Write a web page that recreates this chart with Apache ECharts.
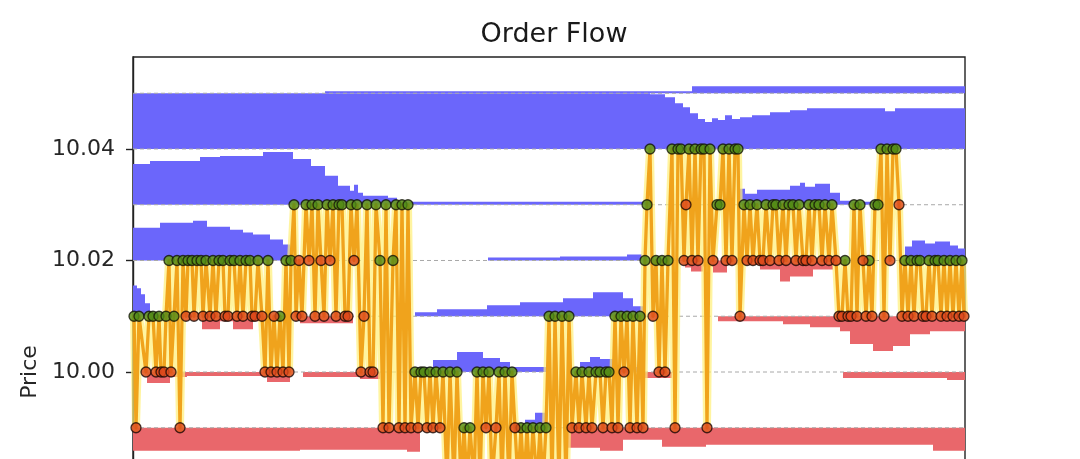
<!DOCTYPE html>
<html>
<head>
<meta charset="utf-8">
<script src="https://cdn.jsdelivr.net/npm/echarts@6/dist/echarts.min.js"></script>
<style>
html,body{margin:0;padding:0;background:#fff;overflow:hidden;width:1080px;height:459px;}
#c{width:1080px;height:700px;}
</style>
</head>
<body>
<div id="c"></div>
<script>
// ---------------- data ----------------
// price levels of the book (tick 0.01)
const levels = [9.99, 10.00, 10.01, 10.02, 10.03, 10.04, 10.05];
const yTickLabels = [10.00, 10.02, 10.04];

// resting ask volume per level, step data [time, lots] (holds until next entry)
const ask1005 = [[0,0],[192,2],[559,7],[832,0]];
const ask1004 = [[0,56],[517,55],[532,52],[542,46],[550,42],[557,36],[565,30],[572,27],[579,31],[585,29],[592,34],[599,30],[607,32],[619,34],[637,37],[657,39],[674,41],[752,38],[762,41],[832,0]];
const ask1003 = [[0,41],[17,44],[67,48],[87,49],[130,53],[160,46],[178,39],[192,29],[205,19],[217,14],[221,20],[225,12],[230,9],[255,7],[264,3],[514,0],[605,16],[612,11],[624,15],[657,19],[667,22],[672,18],[682,21],[697,12],[707,4],[720,3],[747,0],[832,0]];
const ask1002 = [[0,33],[27,38],[60,40],[74,34],[97,31],[110,28],[120,26],[137,21],[150,16],[157,0],[355,3],[427,4],[494,6],[509,0],[772,14],[779,20],[792,17],[802,19],[817,15],[825,12],[832,0]];
const ask1001 = [[0,31],[4,28],[8,22],[12,13],[17,4],[27,2],[42,0],[282,4],[304,7],[354,11],[387,14],[430,18],[460,24],[490,18],[500,10],[510,0],[832,0]];
const ask1000 = [[0,0],[284,5],[300,12],[324,20],[350,14],[367,10],[377,5],[417,0],[447,10],[457,15],[467,13],[480,5],[507,0],[832,0]];
const ask999  = [[0,0],[392,8],[402,15],[412,6],[417,0],[832,0]];

// resting bid volume per level
const bid1002 = [[0,0],[514,4],[534,0],[552,7],[558,11],[570,6],[580,12],[594,4],[627,9],[647,21],[657,16],[680,9],[700,4],[714,0],[832,0]];
const bid1001 = [[0,0],[69,13],[87,5],[100,13],[120,5],[134,0],[167,7],[220,0],[585,5],[650,8],[677,11],[707,15],[717,28],[740,35],[760,30],[777,18],[797,15],[832,0]];
const bid1000 = [[0,0],[14,11],[37,5],[54,4],[134,10],[157,0],[170,5],[227,7],[247,0],[512,6],[539,0],[710,6],[814,8],[832,0]];
const bid999  = [[0,23],[167,22],[274,24],[287,0],[434,20],[467,23],[490,12],[529,19],[573,17],[800,23],[832,0]];

// trades: time, price, side (B = buy at ask, S = sell at bid)
const tradeTimes = [1,3,6,13,16,20,23,26,28,31,33,36,38,41,44,47,50,
53,55,59,61,64,68,70,73,77,80,83,86,90,92,95,97,101,104,107,110,113,117,119,122,125,129,
132,135,138,141,144,147,150,153,156,158,
161,163,166,169,173,176,179,182,185,188,191,194,197,200,203,206,209,212,215,218,221,224,228,231,234,237,240,243,
247,250,253,256,260,263,266,269,272,275,278,
282,285,288,291,294,297,300,303,307,310,314,317,321,324,328,331,334,337,341,344,347,350,353,356,359,363,366,369,372,376,379,382,385,388,391,394,397,400,404,407,410,413,416,419,422,426,429,433,436,
439,443,446,449,453,456,459,463,467,470,473,476,479,482,485,488,491,494,497,500,504,507,510,
512,514,517,520,523,526,529,532,535,539,542,545,548,551,553,556,559,562,565,568,571,574,577,580,584,587,590,593,596,599,602,605,607,
611,614,617,620,624,627,630,633,637,640,643,646,650,653,656,660,663,666,670,673,676,679,682,686,689,692,696,699,703,
706,709,712,715,718,721,724,727,730,733,736,739,742,745,748,751,754,757,760,763,766,769,
772,775,778,781,784,787,790,793,796,799,802,805,808,811,814,817,820,823,826,829,831];
const tradePrices = [10.01,9.99,10.01,10.00,10.01,10.01,10.00,10.01,10.00,10.00,10.01,10.02,10.00,10.01,10.02,9.99,10.02,
10.01,10.02,10.02,10.01,10.02,10.02,10.01,10.02,10.01,10.02,10.01,10.02,10.02,10.01,10.01,10.02,10.02,10.01,10.02,10.01,10.02,10.02,10.01,10.01,10.02,10.01,
10.00,10.02,10.00,10.01,10.00,10.01,10.00,10.02,10.00,10.02,
10.03,10.01,10.02,10.01,10.03,10.02,10.03,10.01,10.03,10.02,10.01,10.03,10.02,10.03,10.01,10.03,10.03,10.01,10.01,10.03,10.02,10.03,10.00,10.01,10.03,10.00,10.00,10.03,
10.02,9.99,10.03,9.99,10.02,10.03,9.99,10.03,9.99,10.03,9.99,
10.00,9.99,10.00,10.00,9.99,10.00,9.99,10.00,9.99,10.00,9.98,10.00,9.98,10.00,9.98,9.99,9.98,9.99,9.98,10.00,9.98,10.00,9.99,10.00,9.98,9.99,10.00,9.98,10.00,9.98,10.00,9.99,9.98,9.99,9.98,9.99,9.98,9.99,9.98,9.99,9.98,9.99,10.01,9.98,10.01,9.98,10.01,9.98,10.01,
9.99,10.00,9.99,10.00,9.99,10.00,9.99,10.00,10.00,9.99,10.00,10.00,9.99,10.01,9.99,10.01,10.00,10.01,9.99,10.01,9.99,10.01,9.99,
10.02,10.03,10.04,10.01,10.02,10.00,10.02,10.00,10.02,10.04,9.99,10.04,10.04,10.02,10.03,10.04,10.02,10.04,10.02,10.04,10.04,9.99,10.04,10.02,10.03,10.03,10.04,10.02,10.04,10.02,10.04,10.04,10.01,
10.03,10.02,10.03,10.02,10.03,10.02,10.02,10.03,10.02,10.03,10.03,10.02,10.03,10.02,10.03,10.03,10.02,10.03,10.02,10.02,10.03,10.02,10.03,10.03,10.02,10.03,10.02,10.03,10.02,
10.01,10.01,10.02,10.01,10.01,10.03,10.01,10.03,10.02,10.01,10.02,10.01,10.03,10.03,10.04,10.01,10.04,10.02,10.04,10.04,10.03,10.01,
10.02,10.01,10.02,10.01,10.02,10.02,10.01,10.01,10.02,10.01,10.02,10.02,10.01,10.02,10.01,10.02,10.01,10.02,10.01,10.02,10.01];
const tradeSides = ["B","S","B","S","B","B","S","B","S","S","B","B","S","B","B","S","B",
"S","B","B","S","B","B","S","B","S","B","S","B","B","S","S","B","B","S","B","S","B","B","S","S","B","S",
"S","B","S","S","S","B","S","B","S","B",
"B","S","S","S","B","S","B","S","B","S","S","B","S","B","S","B","B","S","S","B","S","B","S","S","B","S","S","B",
"B","S","B","S","B","B","S","B","S","B","S",
"B","S","B","B","S","B","S","B","S","B","S","B","S","B","S","B","S","B","S","B","S","B","S","B","S","S","B","S","B","S","B","S","S","B","S","B","S","B","S","B","S","B","B","S","B","S","B","S","B",
"S","B","S","B","S","B","S","B","B","S","B","B","S","B","S","B","S","B","S","B","S","B","S",
"B","B","B","S","B","S","B","S","B","B","S","B","B","S","S","B","S","B","S","B","B","S","B","S","B","B","B","S","B","S","B","B","S",
"B","S","B","S","B","S","S","B","S","B","B","S","B","S","B","B","S","B","S","S","B","S","B","B","S","B","S","B","S",
"S","S","B","S","S","B","S","B","S","S","B","S","B","B","B","S","B","S","B","B","S","S",
"B","S","B","S","B","B","S","S","B","S","B","B","S","B","S","B","S","B","S","B","S"];

// ---------------- chart ----------------
const T_MAX = 832;
const LOTS_TO_PRICE = 0.01 / 56;   // 56 lots fill one tick of height
const ASK_COLOR = '#6b66fb';
const BID_COLOR = '#e9676b';

const bands = [
  {level:10.05, dir: 1, steps: ask1005, color: ASK_COLOR},
  {level:10.04, dir: 1, steps: ask1004, color: ASK_COLOR},
  {level:10.03, dir: 1, steps: ask1003, color: ASK_COLOR},
  {level:10.02, dir: 1, steps: ask1002, color: ASK_COLOR},
  {level:10.01, dir: 1, steps: ask1001, color: ASK_COLOR},
  {level:10.00, dir: 1, steps: ask1000, color: ASK_COLOR},
  {level:9.99,  dir: 1, steps: ask999,  color: ASK_COLOR},
  {level:10.02, dir:-1, steps: bid1002, color: BID_COLOR},
  {level:10.01, dir:-1, steps: bid1001, color: BID_COLOR},
  {level:10.00, dir:-1, steps: bid1000, color: BID_COLOR},
  {level:9.99,  dir:-1, steps: bid999,  color: BID_COLOR}
];

const tradePoints = tradeTimes.map((t, i) => [t, tradePrices[i]]);
const buyPoints = tradePoints.filter((p, i) => tradeSides[i] === 'B');
const sellPoints = tradePoints.filter((p, i) => tradeSides[i] === 'S');

const FONT = 'DejaVu Sans';
const chart = echarts.init(document.getElementById('c'), null, {renderer: 'canvas'});
chart.setOption({
  animation: false,
  backgroundColor: '#ffffff',
  title: {
    text: 'Order Flow',
    left: 549, top: 16, textAlign: 'center',
    textStyle: {fontFamily: FONT, fontSize: 27, fontWeight: 'normal', color: '#1a1a1a'}
  },
  grid: {left: 133, top: 57, width: 832, height: 630, show: true, outerBoundsMode: 'none',
         borderColor: '#222', borderWidth: 1.4, backgroundColor: 'transparent'},
  xAxis: {type: 'value', min: 0, max: T_MAX, show: false},
  yAxis: {
    type: 'value', min: 9.9435, max: 10.0565,
    name: 'Price', nameLocation: 'middle', nameGap: 92,
    nameTextStyle: {fontFamily: FONT, fontSize: 22, color: '#262626'},
    axisLine: {show: true, lineStyle: {color: '#222', width: 1.4}},
    axisTick: {show: true, length: 7, customValues: yTickLabels, lineStyle: {color: '#222', width: 1.4}},
    axisLabel: {customValues: yTickLabels, margin: 18, fontFamily: FONT, fontSize: 22, color: '#262626',
                formatter: v => v.toFixed(2)},
    splitLine: {show: false}
  },
  series: [
    {
      type: 'custom', name: 'book', z: 1, clip: true,
      data: bands.map((b, i) => [i]),
      renderItem: (params, api) => {
        const b = bands[params.dataIndex];
        const s = b.steps;
        const pts = [];
        for (let i = 0; i < s.length - 1; i++) {
          const top = b.level + b.dir * s[i][1] * LOTS_TO_PRICE;
          pts.push(api.coord([s[i][0], top]));
          pts.push(api.coord([s[i + 1][0], top]));
        }
        pts.push(api.coord([s[s.length - 1][0], b.level]));
        pts.push(api.coord([s[0][0], b.level]));
        return {type: 'polygon', shape: {points: pts}, style: {fill: b.color}};
      }
    },
    {
      type: 'custom', name: 'grid', z: 2, silent: true,
      data: levels.map(p => [p]),
      renderItem: (params, api) => {
        const p = levels[params.dataIndex];
        const a = api.coord([0, p]), b = api.coord([T_MAX, p]);
        return {type: 'line', shape: {x1: a[0], y1: a[1], x2: b[0], y2: b[1]},
                style: {stroke: '#a8a8a8', lineWidth: 1, lineDash: [4, 3]}};
      }
    },
    {
      type: 'line', name: 'halo', z: 3, data: tradePoints, symbol: 'none',
      lineStyle: {color: 'rgba(255,240,120,0.7)', width: 8, join: 'round', cap: 'round'}
    },
    {
      type: 'line', name: 'trades', z: 4, data: tradePoints, symbol: 'none',
      lineStyle: {color: '#f0a31c', width: 3.3, join: 'round', cap: 'round'}
    },
    {
      type: 'scatter', name: 'buy', z: 5, data: buyPoints, symbolSize: 10,
      itemStyle: {color: '#4f8a16', borderColor: '#141408', borderWidth: 1.3}
    },
    {
      type: 'scatter', name: 'sell', z: 5, data: sellPoints, symbolSize: 10,
      itemStyle: {color: '#dc461c', borderColor: '#1a0a05', borderWidth: 1.3}
    }
  ]
});
</script>
</body>
</html>
